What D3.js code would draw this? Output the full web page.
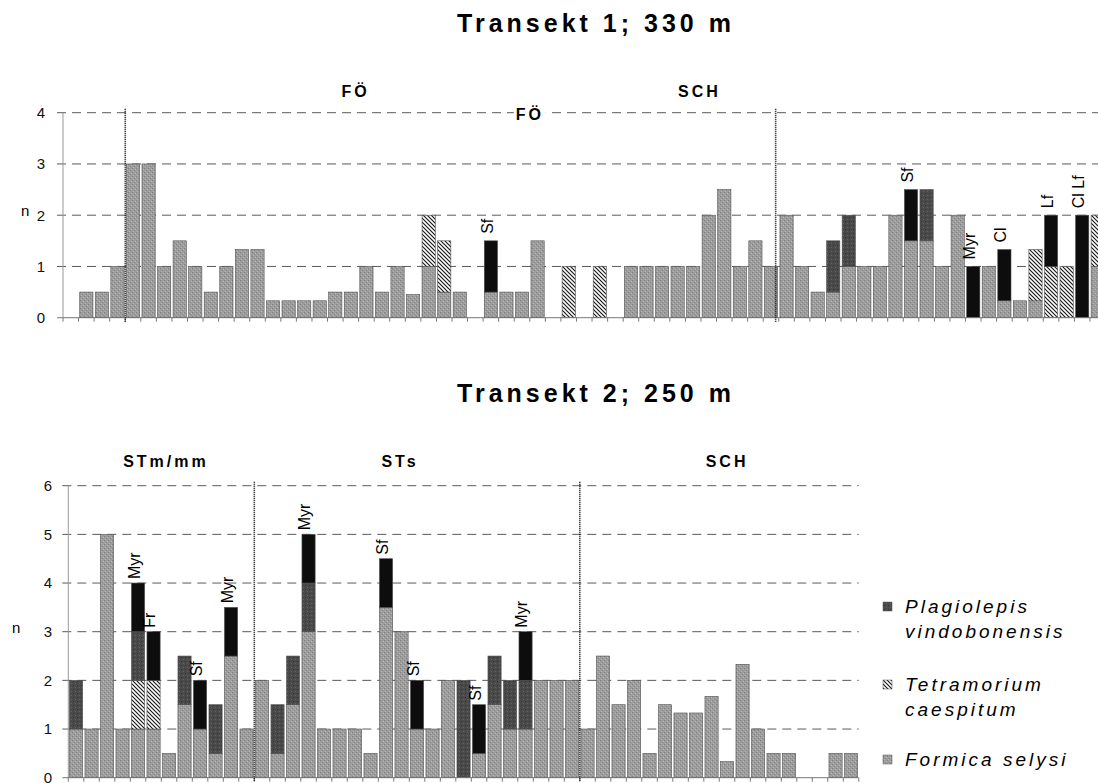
<!DOCTYPE html>
<html>
<head>
<meta charset="utf-8">
<script src="https://cdn.jsdelivr.net/npm/d3@7"></script>
<style>
body { margin: 0; background: #fff; }
svg { display: block; font-family: "Liberation Sans", Arial, sans-serif; }
</style>
</head>
<body>
<svg id="chart" width="1098" height="783"></svg>
<script>
// ---- Transekt 1 (one value per sampling point, n per species)
const t1Formica = [0, 0.5, 0.5, 1, 3, 3, 1, 1.5, 1, 0.5, 1, 1.33, 1.33, 0.33, 0.33, 0.33, 0.33, 0.5, 0.5, 1,
    0.5, 1, 0.45, 1, 0.5, 0.5, 0, 0.5, 0.5, 0.5, 1.5, 0, 0, 0, 0, 0, 1, 1, 1, 1,
    1, 2, 2.5, 1, 1.5, 1, 2, 1, 0.5, 0.5, 1, 1, 1, 2, 1.5, 1.5, 1, 2, 0, 1,
    0.33, 0.33, 0.33, 0, 0, 0, 1];
const t1Tetra = [0, 0, 0, 0, 0, 0, 0, 0, 0, 0, 0, 0, 0, 0, 0, 0, 0, 0, 0, 0,
    0, 0, 0, 1, 1, 0, 0, 0, 0, 0, 0, 0, 1, 0, 1, 0, 0, 0, 0, 0,
    0, 0, 0, 0, 0, 0, 0, 0, 0, 0, 0, 0, 0, 0, 0, 0, 0, 0, 0, 0,
    0, 0, 1, 1, 1, 0, 1];
const t1Plagio = [0, 0, 0, 0, 0, 0, 0, 0, 0, 0, 0, 0, 0, 0, 0, 0, 0, 0, 0, 0,
    0, 0, 0, 0, 0, 0, 0, 0, 0, 0, 0, 0, 0, 0, 0, 0, 0, 0, 0, 0,
    0, 0, 0, 0, 0, 0, 0, 0, 0, 1, 1, 0, 0, 0, 0, 1, 0, 0, 0, 0,
    0, 0, 0, 0, 0, 0, 0];
const t1Other = [0, 0, 0, 0, 0, 0, 0, 0, 0, 0, 0, 0, 0, 0, 0, 0, 0, 0, 0, 0,
    0, 0, 0, 0, 0, 0, 0, 1, 0, 0, 0, 0, 0, 0, 0, 0, 0, 0, 0, 0,
    0, 0, 0, 0, 0, 0, 0, 0, 0, 0, 0, 0, 0, 0, 1, 0, 0, 0, 1, 0,
    1, 0, 0, 1, 0, 2, 0];
const t1LabelSlots = [27, 54, 58, 60, 63, 65];
const t1LabelTexts = ["Sf", "Sf", "Myr", "Cl", "Lf", "Cl Lf"];
const t1SectionNames = ["FÖ", "SCH"];
const t1SectionPos = [18.8, 40.9];
const t1Dividers = [4, 45.8];

// ---- Transekt 2
const t2Formica = [1, 1, 5, 1, 1, 1, 0.5, 1.5, 1, 0.5, 2.5, 1, 2, 0.5, 1.5, 3, 1, 1, 1, 0.5,
    3.5, 3, 1, 1, 2, 0, 0.5, 1.5, 1, 1, 2, 2, 2, 1, 2.5, 1.5, 2, 0.5, 1.5, 1.33,
    1.33, 1.67, 0.33, 2.33, 1, 0.5, 0.5, 0, 0, 0.5, 0.5];
const t2Tetra = [0, 0, 0, 0, 1, 1, 0, 0, 0, 0, 0, 0, 0, 0, 0, 0, 0, 0, 0, 0,
    0, 0, 0, 0, 0, 0, 0, 0, 0, 0, 0, 0, 0, 0, 0, 0, 0, 0, 0, 0,
    0, 0, 0, 0, 0, 0, 0, 0, 0, 0, 0];
const t2Plagio = [1, 0, 0, 0, 1, 0, 0, 1, 0, 1, 0, 0, 0, 1, 1, 1, 0, 0, 0, 0,
    0, 0, 0, 0, 0, 2, 0, 1, 1, 1, 0, 0, 0, 0, 0, 0, 0, 0, 0, 0,
    0, 0, 0, 0, 0, 0, 0, 0, 0, 0, 0];
const t2Other = [0, 0, 0, 0, 1, 1, 0, 0, 1, 0, 1, 0, 0, 0, 0, 1, 0, 0, 0, 0,
    1, 0, 1, 0, 0, 0, 1, 0, 0, 1, 0, 0, 0, 0, 0, 0, 0, 0, 0, 0,
    0, 0, 0, 0, 0, 0, 0, 0, 0, 0, 0];
const t2LabelSlots = [4, 5, 8, 10, 15, 20, 22, 26, 29];
const t2LabelTexts = ["Myr", "Fr", "Sf", "Myr", "Myr", "Sf", "Sf", "Sf", "Myr"];
const t2SectionNames = ["STm/mm", "STs", "SCH"];
const t2SectionPos = [6.3, 21.4, 42.5];
const t2Dividers = [12, 33];

const legendNames = [["Plagiolepis", "vindobonensis"], ["Tetramorium", "caespitum"], ["Formica selysi"]];
const keys = ["formica", "tetra", "plagio", "other"];

const svg = d3.select("#chart");

// fills
const defs = svg.append("defs");
const pf = defs.append("pattern").attr("id", "p-formica").attr("patternUnits", "userSpaceOnUse")
    .attr("width", 4).attr("height", 4);
pf.append("rect").attr("width", 4).attr("height", 4).attr("fill", "#9d9d9d");
pf.append("rect").attr("x", 0).attr("y", 0).attr("width", 1).attr("height", 1).attr("fill", "#808080");
pf.append("rect").attr("x", 2).attr("y", 2).attr("width", 1).attr("height", 1).attr("fill", "#858585");
pf.append("rect").attr("x", 3).attr("y", 1).attr("width", 1).attr("height", 1).attr("fill", "#b8b8b8");
pf.append("rect").attr("x", 1).attr("y", 3).attr("width", 1).attr("height", 1).attr("fill", "#b4b4b4");

const pp = defs.append("pattern").attr("id", "p-plagio").attr("patternUnits", "userSpaceOnUse")
    .attr("width", 4).attr("height", 4);
pp.append("rect").attr("width", 4).attr("height", 4).attr("fill", "#4a4a4a");
pp.append("rect").attr("x", 1).attr("y", 1).attr("width", 1).attr("height", 1).attr("fill", "#303030");
pp.append("rect").attr("x", 3).attr("y", 3).attr("width", 1).attr("height", 1).attr("fill", "#626262");

const pt = defs.append("pattern").attr("id", "p-tetra").attr("patternUnits", "userSpaceOnUse")
    .attr("width", 4).attr("height", 4);
pt.append("rect").attr("width", 4).attr("height", 4).attr("fill", "#fff");
pt.append("path").attr("d", "M0,0L4,4M-1,3L1,5M3,-1L5,1")
    .attr("stroke", "#1a1a1a").attr("stroke-width", 1.2);

const fills = { formica: "url(#p-formica)", tetra: "url(#p-tetra)", plagio: "url(#p-plagio)", other: "#0d0d0d" };

function drawChart(cfg) {
    const n = cfg.formica.length;
    const xEnd = cfg.x0 + n * cfg.step;

    const x = d3.scaleBand().domain(d3.range(n)).range([cfg.x0, xEnd])
        .paddingInner(0.15).paddingOuter(0.075);
    const xs = d3.scaleLinear().domain([0, n]).range([cfg.x0, xEnd]);
    const y = d3.scaleLinear().domain([0, cfg.yMax]).range([cfg.yBottom, cfg.yTop]);

    const g = svg.append("g");

    // title
    g.append("text")
        .attr("x", 596).attr("y", cfg.titleY)
        .attr("text-anchor", "middle")
        .style("font-size", "25px").style("font-weight", "bold").style("letter-spacing", "4px")
        .text(cfg.title);

    // dashed grid
    g.append("g").selectAll("line")
        .data(d3.range(1, cfg.yMax + 1))
        .join("line")
        .attr("x1", cfg.x0 - 6).attr("x2", xEnd)
        .attr("y1", d => y(d)).attr("y2", d => y(d))
        .attr("stroke", "#5a5a5a").attr("stroke-width", 1)
        .attr("stroke-dasharray", "9,6");

    // y axis labels
    const ya = g.append("g")
        .attr("transform", "translate(" + cfg.x0 + ",0)")
        .call(d3.axisLeft(y).ticks(cfg.yMax).tickSize(0).tickPadding(cfg.x0 - cfg.labelX));
    ya.select(".domain").remove();
    ya.selectAll("text").style("font-size", "15px").attr("fill", "#111");

    g.append("text")
        .attr("x", cfg.nX).attr("y", (cfg.yTop + cfg.yBottom) / 2 + 1)
        .style("font-size", "15px").text("n");

    g.append("line")
        .attr("x1", cfg.x0).attr("x2", cfg.x0)
        .attr("y1", cfg.yTop).attr("y2", cfg.yBottom)
        .attr("stroke", "#999");

    // stacked bars
    const rows = d3.range(n).map(i => ({
        formica: cfg.formica[i], tetra: cfg.tetra[i], plagio: cfg.plagio[i], other: cfg.other[i]
    }));
    const series = d3.stack().keys(keys)(rows);

    g.append("g").selectAll("g")
        .data(series)
        .join("g")
        .attr("fill", s => fills[s.key])
        .selectAll("rect")
        .data(s => s.map((d, i) => ({ d: d, i: i })).filter(e => e.d[1] > e.d[0]))
        .join("rect")
        .attr("x", e => x(e.i))
        .attr("width", x.bandwidth())
        .attr("y", e => y(e.d[1]))
        .attr("height", e => y(e.d[0]) - y(e.d[1]))
        .attr("stroke", "#505050").attr("stroke-width", 0.6);

    // baseline and ticks
    g.append("line")
        .attr("x1", cfg.x0 - 6).attr("x2", xEnd)
        .attr("y1", cfg.yBottom).attr("y2", cfg.yBottom)
        .attr("stroke", "#777");
    g.append("g").selectAll("line")
        .data(d3.range(0, n + 1))
        .join("line")
        .attr("x1", d => xs(d)).attr("x2", d => xs(d))
        .attr("y1", cfg.yBottom).attr("y2", cfg.yBottom + 4)
        .attr("stroke", "#777");

    // dotted section dividers
    g.append("g").selectAll("line")
        .data(cfg.dividers)
        .join("line")
        .attr("x1", d => xs(d)).attr("x2", d => xs(d))
        .attr("y1", cfg.yTop - 4).attr("y2", cfg.yBottom + 4)
        .attr("stroke", "#111").attr("stroke-width", 1.6)
        .attr("stroke-dasharray", "1,1");

    // section names
    g.append("g").selectAll("text")
        .data(cfg.sectionNames)
        .join("text")
        .attr("x", (d, i) => xs(cfg.sectionPos[i]))
        .attr("y", cfg.sectionY)
        .attr("text-anchor", "middle")
        .style("font-size", "16px").style("font-weight", "bold").style("letter-spacing", "3px")
        .text(d => d);

    // species labels on bars
    const totals = rows.map(r => r.formica + r.tetra + r.plagio + r.other);
    g.append("g").selectAll("text")
        .data(cfg.labelSlots)
        .join("text")
        .attr("transform", (d, i) => "translate(" + (x(d) + x.bandwidth() / 2 - 4) + "," + (y(totals[d]) - cfg.labelGap) + ") rotate(-90)")
        .attr("dy", "0.35em")
        .style("font-size", "16px")
        .text((d, i) => cfg.labelTexts[i]);

    return { x: x, xs: xs, y: y, g: g };
}

const c1 = drawChart({
    title: "Transekt 1; 330 m", titleY: 32,
    formica: t1Formica, tetra: t1Tetra, plagio: t1Plagio, other: t1Other,
    labelSlots: t1LabelSlots, labelTexts: t1LabelTexts, labelGap: 7,
    sectionNames: t1SectionNames, sectionPos: t1SectionPos, sectionY: 97,
    dividers: t1Dividers,
    x0: 63, step: 15.56, yTop: 112.7, yBottom: 317.7, yMax: 4, labelX: 45, nX: 21
});

// second "FÖ" sitting on the top grid line
const midFo = c1.g.append("g");
midFo.append("rect")
    .attr("x", c1.xs(30) - 16).attr("y", c1.y(4) - 8)
    .attr("width", 32).attr("height", 16).attr("fill", "#fff");
midFo.append("text")
    .attr("x", c1.xs(30)).attr("y", c1.y(4) + 7)
    .attr("text-anchor", "middle")
    .style("font-size", "16px").style("font-weight", "bold").style("letter-spacing", "3px")
    .text("FÖ");

drawChart({
    title: "Transekt 2; 250 m", titleY: 402,
    formica: t2Formica, tetra: t2Tetra, plagio: t2Plagio, other: t2Other,
    labelSlots: t2LabelSlots, labelTexts: t2LabelTexts, labelGap: 4,
    sectionNames: t2SectionNames, sectionPos: t2SectionPos, sectionY: 467,
    dividers: t2Dividers,
    x0: 68.3, step: 15.5, yTop: 485.7, yBottom: 777.7, yMax: 6, labelX: 52, nX: 12
});

// legend
const legendFills = [fills.plagio, fills.tetra, fills.formica];
const legendY = [613, 691, 766];
const lg = svg.append("g").attr("transform", "translate(883,0)");
legendNames.forEach((lines, k) => {
    lg.append("rect")
        .attr("x", 0).attr("y", legendY[k] - 11)
        .attr("width", 9).attr("height", 9)
        .attr("fill", legendFills[k]).attr("stroke", "#555").attr("stroke-width", 0.5);
    lg.append("text")
        .attr("x", 22).attr("y", legendY[k])
        .style("font-size", "19px").style("font-style", "italic").style("letter-spacing", "3px")
        .selectAll("tspan")
        .data(lines)
        .join("tspan")
        .attr("x", 22)
        .attr("dy", (d, i) => i === 0 ? 0 : 25)
        .text(d => d);
});
</script>
</body>
</html>
